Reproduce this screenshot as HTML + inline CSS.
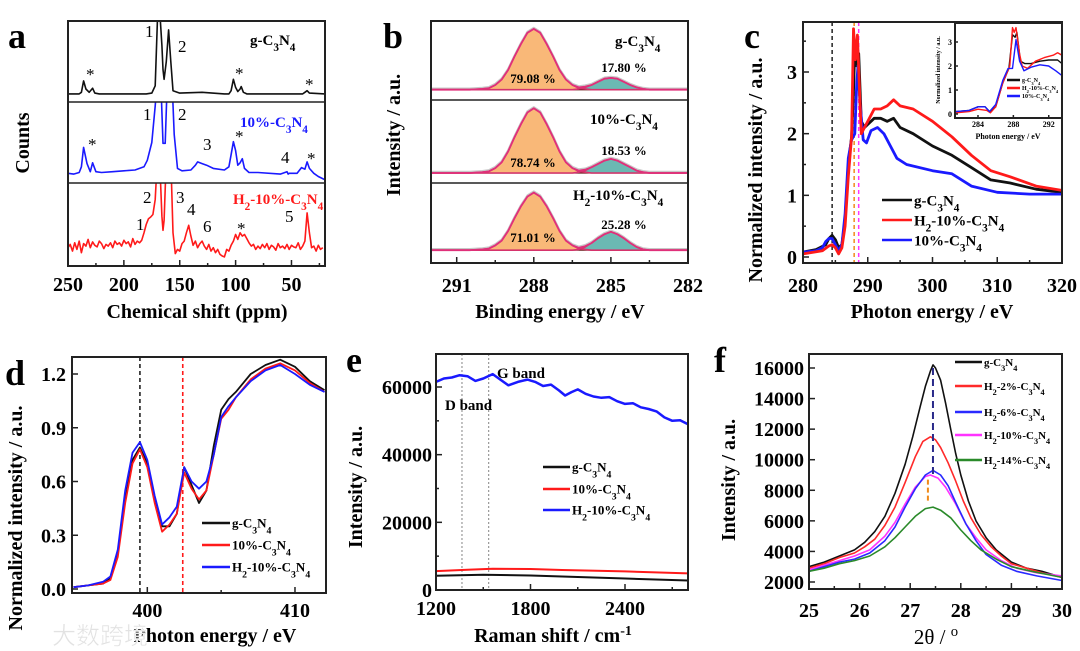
<!DOCTYPE html>
<html><head><meta charset="utf-8">
<style>
html,body{margin:0;padding:0;background:#fff;}
svg{display:block;font-family:"Liberation Serif","Noto Serif CJK SC",serif;}
.tk{font-weight:bold;font-size:20px;}
.ttl{font-weight:bold;font-size:20px;}
.let{font-weight:bold;font-size:36px;}
</style></head>
<body>
<svg id="fig" width="1080" height="651" viewBox="0 0 1080 651"></svg>
<script>
// ---------- Panel a data (ppm, counts scaled 0-100 per sub-panel) ----------
const aTopX=[250,240,238,236,234,231,228,226,222,200,180,175,172,170,168,166,165,164,162,160,158,156,150,130,110,106,104,102,100,98,96,95,93,90,70,40,38,36,34,20];
const aTopY=[10,10,12,26,16,12,17,11,10,10,10,11,20,100,115,70,40,28,50,89,50,14,11,12,10,10,14,28,18,13,16,19,12,10,10,10,12,14,11,10];
const aMidX=[250,245,240,238,236,233,230,228,225,220,210,200,190,182,179,175,172,170,167,165,163,161,159,157,155,152,148,140,136,134,130,126,120,110,106,104,102,100,98,96,94,92,88,80,60,54,53,52,45,41,38,36,34,30,26,20];
const aMidY=[12,11,13,20,44,24,14,25,14,13,14,15,16,20,28,50,95,130,130,49,49,130,130,130,60,18,15,16,22,26,24,22,18,16,20,35,51,40,22,25,30,18,13,13,11,14,11,12,12,19,17,26,18,12,8,4];
const aBotX=[250,248,246,244,242,240,238,236,234,232,230,228,226,224,222,220,218,216,214,212,210,208,206,204,202,200,198,196,194,192,190,188,186,184,182,180,178,176,174,172,170,168,166,165,164,162,160,158,156,154,152,150,148,146,144,142,140,138,136,134,132,130,128,126,124,122,120,118,116,114,112,110,108,106,104,102,100,98,96,94,92,90,88,86,84,82,80,78,76,74,72,70,68,66,64,62,60,58,56,54,52,50,48,46,44,42,40,38,36,34,32,30,28,26,24,22,20];
const aBotY=[22,26,18,28,20,30,16,27,24,32,22,29,25,23,30,27,21,26,24,28,22,30,26,28,24,31,27,29,23,33,26,30,28,31,40,50,57,59,62,80,130,130,60,43,55,130,130,130,40,15,20,18,27,30,40,49,36,25,30,22,27,30,24,20,26,18,22,16,20,14,12,11,20,18,25,30,38,32,40,36,38,33,28,24,26,20,24,21,26,22,27,20,25,23,19,27,22,24,21,26,20,25,23,22,28,20,24,30,64,40,22,24,18,25,20,22];
const aTicks=[250,200,150,100,50];
const aMinor=[225,175,125,75,25];
// ---------- Panel b data ----------
const bX=[292,291,290.5,290,289.75,289.5,289.25,289,288.75,288.5,288.25,288,287.75,287.5,287.25,287,286.75,286.5,286.25,286,285.75,285.5,285.25,285,284.75,284.5,284.25,284,283.75,283.5,283,282];
const bOrange1=[0,0,0,1,2,6,13,25,42,58,72,77,72,58,42,25,13,6,2,1,0,0,0,0,0,0,0,0,0,0,0,0];
const bTeal1  =[0,0,0,0,0,0,0,0,0,0,0,0,0,0,0,0,0,0,1,3,6,10,14,15,14,10,6,3,1,0,0,0];
const bOrange2=[0,0,0,1,2,6,13,26,43,59,73,78,73,59,43,26,13,6,2,1,0,0,0,0,0,0,0,0,0,0,0,0];
const bTeal2  =[0,0,0,0,0,0,0,0,0,0,0,0,0,0,0,0,0,0,1,3,7,11,15,17,15,11,7,3,1,0,0,0];
const bOrange3=[0,0,0,1,2,6,12,24,40,55,67,72,67,55,40,24,12,6,2,1,0,0,0,0,0,0,0,0,0,0,0,0];
const bTeal3  =[0,0,0,0,0,0,0,0,0,0,0,0,0,0,0,0,0,0,1,4,9,15,20,23,20,15,9,4,1,0,0,0];
const bBase=[13,12,16];
const bTicks=[291,288,285,282];
const bMinor=[289.5,286.5,283.5];
const bPct=[["79.08 %","17.80 %"],["78.74 %","18.53 %"],["71.01 %","25.28 %"]];
// ---------- Panel c data ----------
const cBlackX=[280,282,283.5,284,284.5,285,285.5,286,286.5,287,287.5,287.8,288,288.3,288.6,289,289.5,290,291,292,293,294,295,297,300,303,306,309,312,316,320];
const cBlackY=[0.08,0.12,0.2,0.3,0.35,0.28,0.15,0.2,0.6,1.5,1.95,2.7,3.4,3.1,3.3,2.2,2.1,2.15,2.25,2.25,2.2,2.25,2.1,2.0,1.8,1.65,1.45,1.25,1.2,1.1,1.05];
const cRedX=[280,283,284,284.5,285,285.5,286,286.5,287,287.5,287.8,288.1,288.4,288.8,289,289.5,290,291,292,293,294,295,297,300,303,306,309,312,316,320];
const cRedY=[0.05,0.1,0.18,0.2,0.15,0.05,0.15,0.5,1.3,1.95,3.7,3.2,3.6,2.5,2.0,2.1,2.2,2.4,2.4,2.45,2.55,2.45,2.4,2.2,1.95,1.65,1.4,1.3,1.15,1.08];
const cBlueX=[280,282,283,283.5,284,284.5,285,285.5,286,286.5,287,287.5,288,288.3,288.5,288.8,289.3,289.8,290.5,291.5,292.5,293.5,294.5,296,300,303,306,310,315,320];
const cBlueY=[0.08,0.1,0.15,0.25,0.3,0.3,0.2,0.1,0.2,0.7,1.6,1.9,2.0,2.8,3.1,2.5,1.9,1.85,2.05,2.1,2.0,1.8,1.6,1.5,1.4,1.35,1.15,1.05,1.02,1.02];
const cTicks=[280,290,300,310,320];
const cYTicks=[0,1,2,3];
const cDash=[284.5,287.9,288.6];
const iBlackX=[281.5,283,284,284.8,285.3,286,286.8,287.5,287.9,288.2,288.4,288.8,289.3,290,291,292,293,293.5];
const iBlackY=[0.1,0.15,0.3,0.3,0.1,0.3,1.3,1.9,3.3,3.2,3.4,2.2,2.1,2.1,2.2,2.25,2.25,2.1];
const iRedX=[281.5,283,284,285,285.4,286,286.8,287.6,287.9,288.1,288.3,288.7,289,289.6,290.5,291.5,292.5,293,293.5];
const iRedY=[0.05,0.1,0.2,0.15,0.05,0.3,1.3,2.0,3.6,3.4,3.6,2.5,2.0,1.9,2.2,2.35,2.45,2.55,2.45];
const iBlueX=[281.5,283,284,284.8,285.3,286,286.8,287.4,287.9,288.3,288.7,289.2,290,291,292,292.8,293.5];
const iBlueY=[0.1,0.15,0.3,0.3,0.1,0.4,1.4,1.9,1.9,3.1,2.2,1.8,1.95,2.05,2.0,1.8,1.6];
const iTicks=[284,288,292];
const iYTicks=[0,1,2,3];
// ---------- Panel d data ----------
const dX=[395,396,397,397.5,398,398.5,399,399.5,400,400.5,401,401.5,402,402.5,403,403.5,404,404.5,405,405.5,406,407,408,409,410,411,412];
const dBlack=[0.01,0.02,0.03,0.06,0.2,0.5,0.72,0.79,0.7,0.5,0.35,0.35,0.42,0.68,0.58,0.48,0.55,0.8,1.0,1.06,1.1,1.2,1.25,1.28,1.24,1.16,1.11];
const dRed=[0.01,0.02,0.03,0.05,0.18,0.48,0.7,0.78,0.68,0.48,0.32,0.36,0.42,0.65,0.56,0.5,0.55,0.75,0.95,1.0,1.07,1.17,1.23,1.26,1.22,1.15,1.1];
const dBlue=[0.01,0.02,0.04,0.07,0.22,0.55,0.76,0.82,0.72,0.52,0.36,0.4,0.46,0.68,0.6,0.56,0.6,0.75,0.96,1.02,1.07,1.16,1.22,1.25,1.2,1.14,1.1];
const dTicks=[400,410];
const dYTicks=[0,0.3,0.6,0.9,1.2];
const dDash=[399.5,402.4];
// ---------- Panel e data ----------
const eBlueX=[1200,1250,1300,1350,1400,1450,1500,1560,1620,1660,1720,1780,1830,1880,1930,1980,2020,2060,2100,2150,2200,2250,2300,2350,2400,2450,2500,2550,2600,2650,2700,2750,2800];
const eBlueY=[61500,62500,62800,63500,63200,61800,62500,63800,61800,60500,61500,62200,61500,60300,60700,59000,57500,58500,59300,58000,57200,56800,57000,55800,55000,55200,54000,53500,52800,51000,50000,50200,49000];
const eRedX=[1200,1400,1560,1800,2000,2400,2800];
const eRedY=[5600,6000,6300,6200,5900,5500,4900];
const eBlackX=[1200,1500,1800,2000,2400,2800];
const eBlackY=[4200,4500,4300,4000,3400,2800];
const eTicks=[1200,1800,2400];
const eYTicks=[0,20000,40000,60000];
const eDots=[1365,1535];
// ---------- Panel f data ----------
const fBlackX=[25,25.3,25.6,25.9,26.1,26.3,26.5,26.7,26.9,27.05,27.2,27.3,27.4,27.45,27.5,27.6,27.7,27.8,27.9,28,28.15,28.3,28.5,28.7,29,29.3,29.6,30];
const fBlackY=[3000,3300,3700,4100,4600,5300,6300,7800,9700,11500,13500,14800,15800,16200,16000,15200,13700,12000,10400,9000,7300,6000,4900,4100,3300,2900,2700,2300];
const fRedX=[25,25.3,25.6,25.9,26.1,26.3,26.5,26.7,26.9,27.1,27.25,27.4,27.5,27.6,27.75,27.9,28.05,28.2,28.4,28.6,28.8,29,29.3,29.6,30];
const fRedY=[2900,3200,3600,3900,4300,4800,5700,6900,8500,10200,11200,11500,11300,10800,9800,8600,7300,6200,5100,4300,3700,3200,2900,2600,2300];
const fBlueX=[25,25.3,25.6,25.9,26.2,26.5,26.7,26.9,27.1,27.3,27.45,27.6,27.75,27.9,28.1,28.3,28.5,28.8,29.1,29.5,30];
const fBlueY=[2700,3000,3300,3500,3900,4700,5600,6900,8100,9000,9300,9000,8300,7200,5800,4700,3800,3100,2700,2400,2100];
const fMagX=[25,25.3,25.6,25.9,26.2,26.5,26.7,26.9,27.1,27.3,27.4,27.55,27.7,27.9,28.1,28.3,28.5,28.8,29.1,29.5,30];
const fMagY=[2800,3100,3400,3700,4100,5000,5900,7100,8200,8900,9000,8800,8200,7100,5800,4900,4100,3400,2900,2600,2400];
const fGreenX=[25,25.3,25.6,25.9,26.2,26.5,26.7,26.9,27.1,27.3,27.45,27.6,27.8,28,28.2,28.4,28.7,29,29.4,30];
const fGreenY=[2700,2900,3200,3400,3700,4300,4900,5600,6300,6800,6900,6700,6200,5400,4700,4100,3500,3000,2700,2300];
const fTicks=[25,26,27,28,29,30];
const fYTicks=[2000,4000,6000,8000,10000,12000,14000,16000];

// ---------- helpers ----------
const NS="http://www.w3.org/2000/svg";
const fig=document.getElementById('fig');
function mk(tag,attrs,parent){const e=document.createElementNS(NS,tag);for(const k in attrs)e.setAttribute(k,attrs[k]);(parent||fig).appendChild(e);return e;}
function lin(d0,d1,r0,r1){return v=>r0+(v-d0)*(r1-r0)/(d1-d0);}
function group(name){const g=mk('g',{});


return g;}
function series(g,xs,ys,sx,sy,color,w,name){
 let d='';for(let i=0;i<xs.length;i++){d+=(i?'L':'M')+sx(xs[i]).toFixed(1)+','+sy(ys[i]).toFixed(1);}
 const p=mk('path',{d:d,fill:'none',stroke:color,'stroke-width':w,'stroke-linejoin':'round'},g);
 
 
 return p;}
function txt(g,x,y,s,cls,extra,name){
 const t=mk('text',Object.assign({x:x,y:y},extra||{}),g);
 if(cls)t.setAttribute('class',cls);
 const parts=s.split(/(_\d|\^\S+)/);
 parts.forEach(p=>{if(!p)return;const ts=mk('tspan',{},t);
  if(p[0]==='_'){ts.setAttribute('baseline-shift','sub');ts.setAttribute('font-size','75%');ts.textContent=p[1];}
  else if(p[0]==='^'){ts.setAttribute('baseline-shift','super');ts.setAttribute('font-size','70%');ts.textContent=p.slice(1);}
  else ts.textContent=p;});
 
 
 return t;}
function box(g,x0,y0,x1,y1,name){const r=mk('rect',{x:x0,y:y0,width:x1-x0,height:y1-y0,fill:'none',stroke:'#222','stroke-width':2},g);
 
 
 return r;}
function xticks(g,vals,sx,yb,len,labels,ly,fs){vals.forEach((v,i)=>{mk('line',{x1:sx(v),x2:sx(v),y1:yb,y2:yb-len,stroke:'#222','stroke-width':1.5},g);
 if(labels){const t=txt(g,sx(v),ly,String(labels[i]),'tk',{'text-anchor':'middle'},'x-tick-label');if(fs)t.style.fontSize=fs+'px';}});}
function yticks(g,vals,sy,xl,len,labels,lx,fs){vals.forEach((v,i)=>{mk('line',{x1:xl,x2:xl+len,y1:sy(v),y2:sy(v),stroke:'#222','stroke-width':1.5},g);
 if(labels){const t=txt(g,lx,sy(v)+7,String(labels[i]),'tk',{'text-anchor':'end'},'y-tick-label');if(fs){t.style.fontSize=fs+'px';t.setAttribute('y',sy(v)+fs*0.35);}}});}
function vtitle(g,x,y,s,name){const t=txt(g,x,y,s,'ttl',{'text-anchor':'middle',transform:'rotate(-90 '+x+' '+y+')'},name);return t;}
function legLine(g,x0,x1,y,color,label,fs,name){const l=mk('line',{x1:x0,x2:x1,y1:y,y2:y,stroke:color,'stroke-width':2.5},g);
 
 
 const t=txt(g,x1+2,y+fs*0.35,label,null,{'font-weight':'bold','font-size':fs},name+'-label');return t;}
function clip(id,x0,y0,x1,y1){const cp=mk('clipPath',{id:id});mk('rect',{x:x0,y:y0,width:x1-x0,height:y1-y0},cp);}

// ================= Panel a =================
(function(){
 const g=group('panel-a');
 const L=68,R=325,T=21,B=266;const sx=lin(250,20,L,R);
 const subs=[[21,102,aTopX,aTopY,'#111','nmr-g-c3n4'],[102,183,aMidX,aMidY,'#1a1aff','nmr-10pct-c3n4'],[183,266,aBotX,aBotY,'#ff1a1a','nmr-h2-10pct-c3n4']];
 subs.forEach((s,i)=>{clip('ca'+i,L,s[0],R,s[1]);const sy=lin(0,100,s[1],s[0]);
  const p=series(g,s[2],s[3],sx,sy,s[4],1.6,s[5]);p.setAttribute('clip-path','url(#ca'+i+')');});
 box(g,L,T,R,B,'plot-frame-a');
 mk('line',{x1:L,x2:R,y1:102,y2:102,stroke:'#222','stroke-width':1.5},g);
 mk('line',{x1:L,x2:R,y1:183,y2:183,stroke:'#222','stroke-width':1.5},g);
 xticks(g,aTicks,sx,B,6,aTicks,291);xticks(g,aMinor,sx,B,3);
 txt(g,197,318,'Chemical shift (ppm)','ttl',{'text-anchor':'middle'},'x-axis-title-a');
 vtitle(g,29,143,'Counts','y-axis-title-a');
 txt(g,8,48,'a','let',{},'panel-label-a');
 const nf={'font-size':17};
 [[145,37,'1'],[178,52,'2'],[143,120,'1'],[178,120,'2'],[203,150,'3'],[281,163,'4'],[143,203,'2'],[176,203,'3'],[136,230,'1'],[187,215,'4'],[203,232,'6'],[285,222,'5']].forEach(a=>txt(g,a[0],a[1],a[2],null,nf,'peak-number'));
 [[86,80],[235,79],[305,90],[88,150],[235,142],[307,164],[237,234]].forEach(a=>txt(g,a[0],a[1],'*',null,{'font-size':17},'spinning-sideband-marker'));
 txt(g,250,45,'g-C_3N_4',null,{'font-weight':'bold','font-size':15},'label-g-c3n4');
 txt(g,240,127,'10%-C_3N_4',null,{'font-weight':'bold','font-size':15,fill:'#1a1aff'},'label-10pct');
 txt(g,233,204,'H_2-10%-C_3N_4',null,{'font-weight':'bold','font-size':15,fill:'#ff1a1a'},'label-h2-10pct');
})();

// ================= Panel b =================
(function(){
 const g=group('panel-b');
 const L=431,R=688,T=21,B=263;const sx=lin(292,282,L,R);
 const subs=[[21,100,bOrange1,bTeal1],[100,183,bOrange2,bTeal2],[183,263,bOrange3,bTeal3]];
 subs.forEach((s,i)=>{const sy=lin(0,100,s[1],s[0]);const b0=bBase[i];
  const o=s[2].map(v=>v+b0),t=s[3].map(v=>v+b0),env=s[2].map((v,k)=>v+s[3][k]+b0);
  const fillPath=(ys,col,name)=>{let d='M'+sx(bX[0])+','+sy(b0);bX.forEach((x,k)=>d+='L'+sx(x).toFixed(1)+','+sy(ys[k]).toFixed(1));d+='L'+sx(bX[bX.length-1])+','+sy(b0)+'Z';
   const p=mk('path',{d:d,fill:col,stroke:'none'},g);
   
   };
  fillPath(o,'#f9b878','c-n=c-component');fillPath(t,'#6bb9b3','c-c-component');
  series(g,bX,env.map(v=>v+1.5),sx,sy,'#c8c8c8',2,'raw-data');
  mk('line',{x1:L,x2:R,y1:sy(b0),y2:sy(b0),stroke:'#6b1a1a','stroke-width':1.2},g);
  series(g,bX,o,sx,sy,'#d6336c',1.6,'fit-peak-288');
  series(g,bX,t,sx,sy,'#d6336c',1.6,'fit-peak-285');
  series(g,bX,env,sx,sy,'#e0307a',1.8,'fit-envelope');
 });
 box(g,L,T,R,B,'plot-frame-b');
 mk('line',{x1:L,x2:R,y1:100,y2:100,stroke:'#222','stroke-width':1.5},g);
 mk('line',{x1:L,x2:R,y1:183,y2:183,stroke:'#222','stroke-width':1.5},g);
 xticks(g,bTicks,sx,B,6,bTicks,292);xticks(g,bMinor,sx,B,3);
 txt(g,560,318,'Binding energy / eV','ttl',{'text-anchor':'middle'},'x-axis-title-b');
 vtitle(g,400,135,'Intensity / a.u.','y-axis-title-b');
 txt(g,383,48,'b','let',{},'panel-label-b');
 const ys=[[83,72],[167,155],[242,229]];
 bPct.forEach((p,i)=>{txt(g,533,ys[i][0],p[0],null,{'font-weight':'bold','font-size':13,'text-anchor':'middle'},'area-percent');
  txt(g,624,ys[i][1],p[1],null,{'font-weight':'bold','font-size':13,'text-anchor':'middle'},'area-percent');});
 txt(g,615,46,'g-C_3N_4',null,{'font-weight':'bold','font-size':15},'label-g-c3n4');
 txt(g,590,124,'10%-C_3N_4',null,{'font-weight':'bold','font-size':15},'label-10pct');
 txt(g,573,200,'H_2-10%-C_3N_4',null,{'font-weight':'bold','font-size':15},'label-h2-10pct');
})();

// ================= Panel c =================
(function(){
 const g=group('panel-c');
 const L=803,R=1062,T=22,B=263;const sx=lin(280,320,L,R),sy=lin(0,3,257,72);
 clip('cc',L,T,R,B);
 const dc=['#222','#f08a1a','#ff33ff'];
 cDash.forEach((v,i)=>mk('line',{x1:sx(v),x2:sx(v),y1:T,y2:B,stroke:dc[i],'stroke-width':1.5,'stroke-dasharray':'4,3'},g));
 [[cBlackX,cBlackY,'#111','xas-g-c3n4'],[cBlueX,cBlueY,'#1a1aff','xas-10pct'],[cRedX,cRedY,'#ff1a1a','xas-h2-10pct']].forEach(s=>{const p=series(g,s[0],s[1],sx,sy,s[2],2.8,s[3]);p.setAttribute('clip-path','url(#cc)');});
 box(g,L,T,R,B,'plot-frame-c');
 xticks(g,cTicks,sx,B,6,cTicks,292);xticks(g,[285,295,305,315],sx,B,3);
 yticks(g,cYTicks,sy,L,6,cYTicks,797);yticks(g,[0.5,1.5,2.5,3.5],sy,L,3);
 txt(g,932,318,'Photon energy / eV','ttl',{'text-anchor':'middle'},'x-axis-title-c');
 vtitle(g,762,170,'Normalized intensity / a.u.','y-axis-title-c');
 txt(g,744,48,'c','let',{},'panel-label-c');
 legLine(g,882,912,200,'#111','g-C_3N_4',15,'legend-g-c3n4');
 legLine(g,882,912,220,'#ff1a1a','H_2-10%-C_3N_4',15,'legend-h2-10pct');
 legLine(g,882,912,240,'#1a1aff','10%-C_3N_4',15,'legend-10pct');
 // inset
 const IL=955,IR=1062,IT=23,IB=118;const ix=lin(281.4,293.5,IL,IR),iy=lin(0,3,114,42);
 mk('rect',{x:IL,y:IT,width:IR-IL,height:IB-IT,fill:'#fff'},g);
 clip('ci',IL,IT,IR,IB);
 [[iBlackX,iBlackY,'#111','inset-g-c3n4'],[iRedX,iRedY,'#ff1a1a','inset-h2-10pct'],[iBlueX,iBlueY,'#1a1aff','inset-10pct']].forEach(s=>{const p=series(g,s[0],s[1],ix,iy,s[2],1.4,s[3]);p.setAttribute('clip-path','url(#ci)');});
 box(g,IL,IT,IR,IB,'inset-frame');
 xticks(g,iTicks,ix,IB,3,iTicks,127,8);
 yticks(g,iYTicks,iy,IL,3,iYTicks,952,8);
 txt(g,1008,139,'Photon energy / eV',null,{'font-weight':'bold','font-size':8,'text-anchor':'middle'},'inset-x-title');
 txt(g,940,70,'Normalized intensity / a.u.',null,{'font-weight':'bold','font-size':6,'text-anchor':'middle',transform:'rotate(-90 940 70)'},'inset-y-title');
 legLine(g,1007,1020,80,'#111','g-C_3N_4',6,'inset-legend-g');
 legLine(g,1007,1020,88,'#ff1a1a','H_2-10%-C_3N_4',6,'inset-legend-h2');
 legLine(g,1007,1020,96,'#1a1aff','10%-C_3N_4',6,'inset-legend-10pct');
})();

// ================= Panel d =================
(function(){
 const g=group('panel-d');
 const L=72,R=326,T=357,B=593;const sx=lin(394.9,412.1,L,R),sy=lin(0,1.2,589,374);
 const dc=['#222','#ff1a1a'];
 dDash.forEach((v,i)=>mk('line',{x1:sx(v),x2:sx(v),y1:T,y2:B,stroke:dc[i],'stroke-width':1.6,'stroke-dasharray':'4,3'},g));
 series(g,dX,dBlack,sx,sy,'#111',1.8,'nexafs-g-c3n4');
 series(g,dX,dRed,sx,sy,'#ff1a1a',1.8,'nexafs-10pct');
 series(g,dX,dBlue,sx,sy,'#1a1aff',1.8,'nexafs-h2-10pct');
 box(g,L,T,R,B,'plot-frame-d');
 xticks(g,dTicks,sx,B,6,dTicks,617);xticks(g,[405],sx,B,3);
 yticks(g,dYTicks,sy,L,6,dYTicks.map(v=>v.toFixed(1)),66);
 txt(g,215,642,'Photon energy / eV','ttl',{'text-anchor':'middle'},'x-axis-title-d');
 vtitle(g,22,518,'Normalized intensity / a.u.','y-axis-title-d');
 txt(g,5,385,'d','let',{},'panel-label-d');
 legLine(g,202,230,523,'#111','g-C_3N_4',13,'legend-g-c3n4');
 legLine(g,202,230,545,'#ff1a1a','10%-C_3N_4',13,'legend-10pct');
 legLine(g,202,230,567,'#1a1aff','H_2-10%-C_3N_4',13,'legend-h2-10pct');
 txt(g,52,644,'大数跨境',null,{'font-size':24,fill:'#e2e2e2',stroke:'#fff','stroke-width':0.5,'font-family':'"Noto Sans CJK SC",sans-serif'},'watermark');
})();

// ================= Panel e =================
(function(){
 const g=group('panel-e');
 const L=436,R=688,T=354,B=590;const sx=lin(1200,2800,L,R),sy=lin(0,60000,590,387);
 eDots.forEach(v=>mk('line',{x1:sx(v),x2:sx(v),y1:T,y2:B,stroke:'#666','stroke-width':0.8,'stroke-dasharray':'2,2'},g));
 series(g,eBlueX,eBlueY,sx,sy,'#1a1aff',2.5,'raman-h2-10pct');
 series(g,eRedX,eRedY,sx,sy,'#ff1a1a',2,'raman-10pct');
 series(g,eBlackX,eBlackY,sx,sy,'#111',2,'raman-g-c3n4');
 box(g,L,T,R,B,'plot-frame-e');
 xticks(g,eTicks,sx,B,6,eTicks,615);xticks(g,[1500,2100,2700],sx,B,3);
 yticks(g,eYTicks,sy,L,6,eYTicks,432);yticks(g,[10000,30000,50000],sy,L,3);
 txt(g,553,642,'Raman shift / cm^-1','ttl',{'text-anchor':'middle'},'x-axis-title-e');
 vtitle(g,362,487,'Intensity / a.u.','y-axis-title-e');
 txt(g,346,372,'e','let',{},'panel-label-e');
 txt(g,497,378,'G band',null,{'font-weight':'bold','font-size':15},'g-band-label');
 txt(g,445,410,'D band',null,{'font-weight':'bold','font-size':15},'d-band-label');
 legLine(g,543,570,467,'#111','g-C_3N_4',13,'legend-g-c3n4');
 legLine(g,543,570,489,'#ff1a1a','10%-C_3N_4',13,'legend-10pct');
 legLine(g,543,570,510,'#1a1aff','H_2-10%-C_3N_4',13,'legend-h2-10pct');
})();

// ================= Panel f =================
(function(){
 const g=group('panel-f');
 const L=809,R=1062,T=354,B=589;const sx=lin(25,30,L,R),sy=lin(2000,16000,582,368);
 series(g,fBlackX,fBlackY,sx,sy,'#111',1.6,'xrd-g-c3n4');
 series(g,fRedX,fRedY,sx,sy,'#ff2a2a',1.6,'xrd-h2-2pct');
 series(g,fMagX,fMagY,sx,sy,'#ff33ff',1.6,'xrd-h2-10pct');
 series(g,fBlueX,fBlueY,sx,sy,'#2a2aff',1.6,'xrd-h2-6pct');
 series(g,fGreenX,fGreenY,sx,sy,'#2a8a2a',1.6,'xrd-h2-14pct');
 mk('line',{x1:sx(27.45),x2:sx(27.45),y1:sy(16000),y2:sy(9000),stroke:'#2a2a8a','stroke-width':2,'stroke-dasharray':'7,4'},g);
 mk('line',{x1:sx(27.35),x2:sx(27.35),y1:sy(8700),y2:sy(7200),stroke:'#f08a1a','stroke-width':2,'stroke-dasharray':'5,3'},g);
 box(g,L,T,R,B,'plot-frame-f');
 xticks(g,fTicks,sx,B,6,fTicks,617);xticks(g,[25.5,26.5,27.5,28.5,29.5],sx,B,3);
 yticks(g,fYTicks,sy,L,6,fYTicks,804);
 txt(g,936,644,'2θ / ^o',null,{'font-size':21,'text-anchor':'middle'},'x-axis-title-f');
 vtitle(g,735,480,'Intensity / a.u.','y-axis-title-f');
 txt(g,714,372,'f','let',{},'panel-label-f');
 legLine(g,955,982,362,'#111','g-C_3N_4',11,'legend-g-c3n4');
 legLine(g,955,982,386,'#ff2a2a','H_2-2%-C_3N_4',11,'legend-h2-2pct');
 legLine(g,955,982,412,'#2a2aff','H_2-6%-C_3N_4',11,'legend-h2-6pct');
 legLine(g,955,982,435,'#ff33ff','H_2-10%-C_3N_4',11,'legend-h2-10pct');
 legLine(g,955,982,460,'#2a8a2a','H_2-14%-C_3N_4',11,'legend-h2-14pct');
})();
</script>
</body></html>
